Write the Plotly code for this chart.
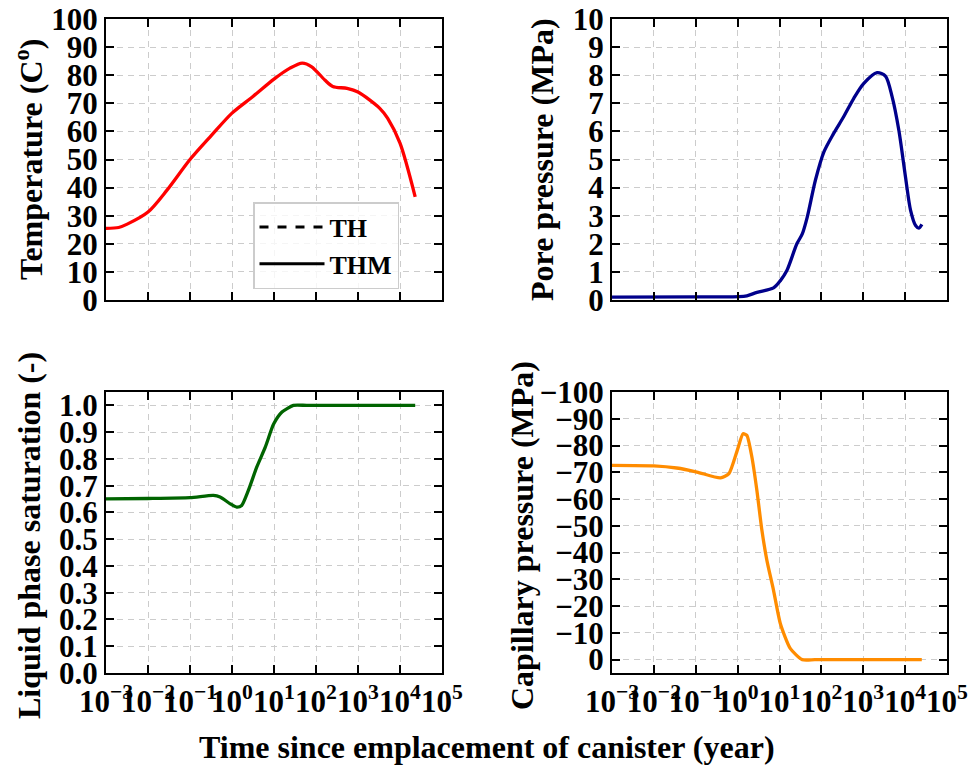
import plotly.graph_objects as go

# ---------------- data ----------------
temp_t = [0.001, 0.002, 0.0032, 0.01, 0.028, 0.1, 0.32, 1, 3.2, 10, 24, 47, 79, 162, 250, 550, 1000, 3300, 5100, 10000, 23000]
temp_v = [25.5, 25.8, 27.0, 31.3, 39.0, 50.0, 58.5, 66.5, 72.5, 78.6, 82.5, 84.3, 83.0, 78.3, 76.0, 75.3, 74.0, 68.2, 64.6, 55.8, 36.7]

pres_t = [0.001, 0.1, 1.07, 1.66, 2.9, 7.2, 10.5, 15, 26, 35, 46, 72, 115, 195, 340, 590, 1020, 2140, 3390, 4900, 7080, 10200, 13500, 17800, 21400, 25100]
pres_v = [0.10, 0.11, 0.12, 0.15, 0.27, 0.43, 0.69, 1.05, 2.0, 2.35, 2.95, 4.26, 5.27, 5.92, 6.52, 7.17, 7.70, 8.09, 7.97, 7.23, 6.04, 4.38, 3.19, 2.65, 2.56, 2.69]

sat_t = [0.001, 0.01, 0.1, 0.36, 0.52, 0.89, 1.29, 1.7, 2.45, 3.9, 6.2, 9.8, 15.5, 29, 60, 300, 3000, 23000]
sat_v = [0.651, 0.652, 0.655, 0.664, 0.658, 0.633, 0.620, 0.626, 0.682, 0.770, 0.844, 0.930, 0.975, 1.0, 1.0, 1.0, 1.0, 1.0]

cap_t = [0.001, 0.01, 0.035, 0.107, 0.39, 0.62, 0.98, 1.35, 1.66, 2.19, 2.88, 3.8, 5.0, 7.2, 10.5, 18.2, 35, 70, 300, 3000, 25000]
cap_v = [-72.6, -72.4, -71.6, -70.1, -67.9, -69.5, -78.2, -84.4, -83.8, -75.7, -63.3, -48.3, -37.1, -25.9, -13.4, -4.1, 0.0, 0.0, 0.0, 0.0, 0.0]

x_tickvals = [1e-3, 1e-2, 1e-1, 1e0, 1e1, 1e2, 1e3, 1e4, 1e5]
x_ticktext = ["10<sup>−3</sup>", "10<sup>−2</sup>", "10<sup>−1</sup>", "10<sup>0</sup>", "10<sup>1</sup>",
              "10<sup>2</sup>", "10<sup>3</sup>", "10<sup>4</sup>", "10<sup>5</sup>"]
temp_ticks = list(range(0, 101, 10))
pres_ticks = list(range(0, 11, 1))
sat_ticks = [round(0.1 * i, 1) for i in range(11)]
sat_ticktext = ["%.1f" % v for v in sat_ticks]
cap_ticks = list(range(-100, 1, 10))
cap_ticktext = [("−%d" % -v) if v < 0 else "0" for v in cap_ticks]

legend_names = ["TH", "THM"]

# ---------------- figure ----------------
FONT = "Liberation Serif, Times New Roman, serif"
W, H = 969, 768

fig = go.Figure()

line_w = 3.3
fig.add_trace(go.Scatter(x=temp_t, y=temp_v, mode="lines", line=dict(color="#ff0000", width=line_w, shape="spline", smoothing=0.8),
                         xaxis="x", yaxis="y", showlegend=False))
fig.add_trace(go.Scatter(x=pres_t, y=pres_v, mode="lines", line=dict(color="#00008b", width=line_w, shape="spline", smoothing=0.8),
                         xaxis="x2", yaxis="y2", showlegend=False))
fig.add_trace(go.Scatter(x=sat_t, y=sat_v, mode="lines", line=dict(color="#006400", width=line_w, shape="spline", smoothing=0.6),
                         xaxis="x3", yaxis="y3", showlegend=False))
fig.add_trace(go.Scatter(x=cap_t, y=cap_v, mode="lines", line=dict(color="#ff8c00", width=line_w, shape="spline", smoothing=0.6),
                         xaxis="x4", yaxis="y4", showlegend=False))

# legend-only entries
fig.add_trace(go.Scatter(x=[None], y=[None], mode="lines", name=legend_names[0],
                         line=dict(color="black", width=3, dash="dash"), xaxis="x", yaxis="y"))
fig.add_trace(go.Scatter(x=[None], y=[None], mode="lines", name=legend_names[1],
                         line=dict(color="black", width=3), xaxis="x", yaxis="y"))

def dom_x(a, b):
    return [a / W, b / W]

def dom_y(top, bot):
    return [1 - bot / H, 1 - top / H]

tickfont = dict(family=FONT, size=31, color="black", weight="bold")
common = dict(showline=True, linewidth=2, linecolor="black", mirror="ticks",
              ticks="inside", ticklen=8, tickwidth=2, tickcolor="black",
              showgrid=True, gridcolor="#cccccc", gridwidth=1.2, griddash="6px,5px",
              zeroline=False, tickfont=tickfont, automargin=False, tickangle=0)

xcommon = dict(common, type="log", range=[-3, 5], tickvals=x_tickvals, ticktext=x_ticktext)

LX = dom_x(106, 442)
RX = dom_x(612, 947)
TY = dom_y(19, 300)
BY = dom_y(392, 673)

fig.update_layout(
    template="none",
    width=W, height=H,
    margin=dict(l=0, r=0, t=0, b=0, pad=0),
    paper_bgcolor="white", plot_bgcolor="white",
    font=dict(family=FONT, color="black"),
    xaxis=dict(xcommon, domain=LX, anchor="y", showticklabels=False),
    yaxis=dict(common, domain=TY, anchor="x", range=[0, 100], tickvals=temp_ticks),
    xaxis2=dict(xcommon, domain=RX, anchor="y2", showticklabels=False),
    yaxis2=dict(common, domain=TY, anchor="x2", range=[0, 10], tickvals=pres_ticks),
    xaxis3=dict(xcommon, domain=LX, anchor="y3"),
    yaxis3=dict(common, domain=BY, anchor="x3", range=[0, 1.05], tickvals=sat_ticks, ticktext=sat_ticktext),
    xaxis4=dict(xcommon, domain=RX, anchor="y4"),
    yaxis4=dict(common, domain=BY, anchor="x4", range=[5, -100], tickvals=cap_ticks, ticktext=cap_ticktext),
    legend=dict(x=253 / W, y=1 - 202 / H, xanchor="left", yanchor="top",
                bgcolor="rgba(255,255,255,0.8)", bordercolor="#cccccc", borderwidth=1.5,
                font=dict(family=FONT, size=26, color="black", weight="bold"),
                itemwidth=65, tracegroupgap=4),
    showlegend=True,
)

titlefont = dict(family=FONT, size=32, color="black", weight="bold")
ann = [
    ("Temperature (C<sup>o</sup>)", 29, 160, -90),
    ("Pore pressure (MPa)", 542, 160, -90),
    ("Liquid phase saturation (-)", 29, 536, -90),
    ("Capillary pressure (MPa)", 522, 536, -90),
    ("Time since emplacement of canister (year)", 487, 747, 0),
]
for text, px, py, ang in ann:
    fig.add_annotation(text=text, x=px / W, y=1 - py / H, xref="paper", yref="paper",
                       xanchor="center", yanchor="middle", textangle=ang, showarrow=False,
                       font=titlefont)

fig.write_html("out.html", config={"displayModeBar": False},
               post_script="document.body.style.margin='0px';document.body.style.overflow='hidden';")
